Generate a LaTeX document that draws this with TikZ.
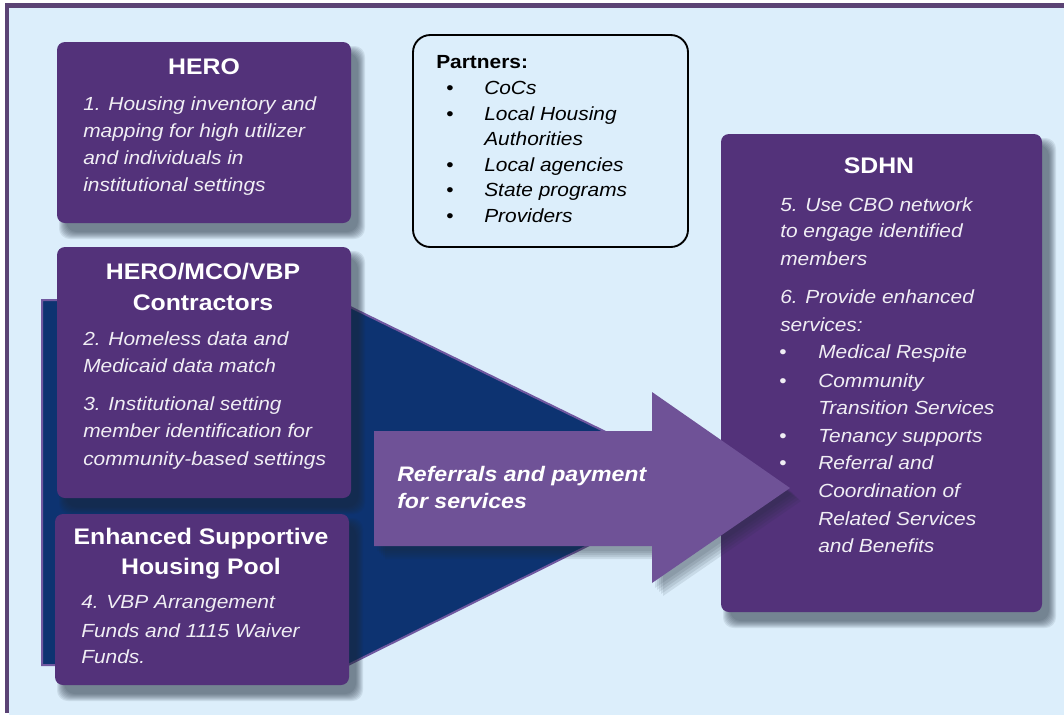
\documentclass[tikz,border=0pt]{standalone}
\usepackage{fontspec}
\setmainfont[FakeStretch=1.1]{Liberation Sans}

\definecolor{bgblue}{HTML}{DCEEFB}
\definecolor{boxpurple}{HTML}{53327A}
\definecolor{arrowpurple}{HTML}{6F5297}
\definecolor{navy}{HTML}{0D3371}
\definecolor{framepurple}{HTML}{5B4374}
\definecolor{edgepurple}{HTML}{7058A0}
\definecolor{softwhite}{HTML}{F0EEF4}
\definecolor{shadowgray}{HTML}{1E2A38}

% soft shadow under a box: x1, y1, x2, y2
\newcommand{\boxshadow}[4]{%
  \foreach \k in {0,...,7}
    \fill[shadowgray,opacity=0.09,rounded corners=8pt] (#1+2+\k,#2+4+\k) rectangle (#3+14-\k,#4+16-\k);}

\begin{document}
\begin{tikzpicture}[x=0.75pt,y=-0.75pt,
  box/.style={fill=boxpurple,rounded corners=6pt},
  navyshape/.style={fill=navy,draw=edgepurple,line width=1.5pt,line join=miter},
  partnerbox/.style={draw=black,line width=1.4pt,rounded corners=13pt},
  title/.style={anchor=base,inner sep=0pt,text=white,font=\fontsize{16.9}{20}\selectfont\bfseries},
  item/.style={anchor=base west,inner sep=0pt,text=softwhite,font=\fontsize{14.25}{17}\selectfont\itshape},
  bulletw/.style={anchor=base west,inner sep=0pt,text=softwhite,font=\fontsize{14.25}{17}\selectfont},
  pitem/.style={anchor=base west,inner sep=0pt,text=black,font=\fontsize{14.25}{17}\selectfont\itshape},
  bulletb/.style={anchor=base west,inner sep=0pt,text=black,font=\fontsize{14.25}{17}\selectfont},
  arrowtext/.style={anchor=base west,inner sep=0pt,text=white,font=\fontsize{15.75}{19}\selectfont\bfseries\itshape}]

\useasboundingbox (0,0) rectangle (1064,715);
\fill[white] (0,0) rectangle (1064,715);
\fill[bgblue] (9,8) rectangle (1064,715);
\fill[framepurple] (5,3) rectangle (1064,8);
\fill[framepurple] (5,3) rectangle (9,713);

\draw[navyshape] (42,300) -- (336,300) -- (712,484) -- (348,665) -- (42,665) -- cycle;

\boxshadow{57}{42}{351}{223}
\path[box] (57,42) rectangle (351,223);
\boxshadow{57}{247}{351}{498}
\path[box] (57,247) rectangle (351,498);
\boxshadow{55}{514}{349}{685}
\path[box] (55,514) rectangle (349,685);
\boxshadow{721}{134}{1042}{612}
\path[box] (721,134) rectangle (1042,612);

% arrow with its shadow
\foreach \k in {3,5,...,11}
  \fill[shadowgray,opacity=0.1,shift={(\k,\k+2)}] (374,431) -- (652,431) -- (652,392) -- (790,488) -- (652,583) -- (652,546) -- (374,546) -- cycle;
\fill[arrowpurple] (374,431) -- (652,431) -- (652,392) -- (790,488) -- (652,583) -- (652,546) -- (374,546) -- cycle;

\draw[partnerbox] (413,35) rectangle (688,247);

% HERO
\node (herotitle) at (204,74)[title]{HERO};
\foreach \y/\txt in {110/1. Housing inventory and, 137/mapping for high utilizer,
    164/and individuals in, 191/institutional settings}
  \node (hero\y) at (83,\y)[item]{\txt};

% HERO/MCO/VBP
\node (mcotitle) at (203,279)[title]{HERO/MCO/VBP};
\node (mcosub) at (203,310)[title]{Contractors};
\foreach \y/\txt in {345/2. Homeless data and, 372/Medicaid data match,
    410/3. Institutional setting, 437/member identification for,
    465/community-based settings}
  \node (mco\y) at (83,\y)[item]{\txt};

% pool
\node (pooltitle) at (201,544)[title]{Enhanced Supportive};
\node (poolsub) at (201,574)[title]{Housing Pool};
\foreach \y/\txt in {608/4. VBP Arrangement, 637/Funds and 1115 Waiver, 663/Funds.}
  \node (pool\y) at (81,\y)[item]{\txt};

% SDHN
\node (sdhntitle) at (879,173)[title]{SDHN};
\foreach \y/\txt in {211/5. Use CBO network, 237/to engage identified, 265/members,
    303/6. Provide enhanced, 331/services:}
  \node (sdhn\y) at (780,\y)[item]{\txt};
\foreach \y/\txt in {358/Medical Respite, 387/Community, 414/Transition Services,
    442/Tenancy supports, 469/Referral and, 497/Coordination of,
    525/Related Services, 552/and Benefits}
  \node (svc\y) at (818,\y)[item]{\txt};
\foreach \y in {358,387,442,469}
  \node (svcdot\y) at (779,\y)[bulletw]{\textbullet};

% partners
\node (partnerstitle) at (436,68)[anchor=base west,inner sep=0pt,font=\fontsize{14.25}{17}\selectfont\bfseries]{Partners:};
\foreach \y/\txt in {94/CoCs, 120/Local Housing, 145/Authorities, 171/Local agencies,
    196/State programs, 222/Providers}
  \node (partner\y) at (484,\y)[pitem]{\txt};
\foreach \y in {94,120,171,196,222}
  \node (partnerdot\y) at (446,\y)[bulletb]{\textbullet};

% arrow label
\node (referral) at (397,481)[arrowtext]{Referrals and payment};
\node (services) at (397,508)[arrowtext]{for services};

\end{tikzpicture}
\end{document}
